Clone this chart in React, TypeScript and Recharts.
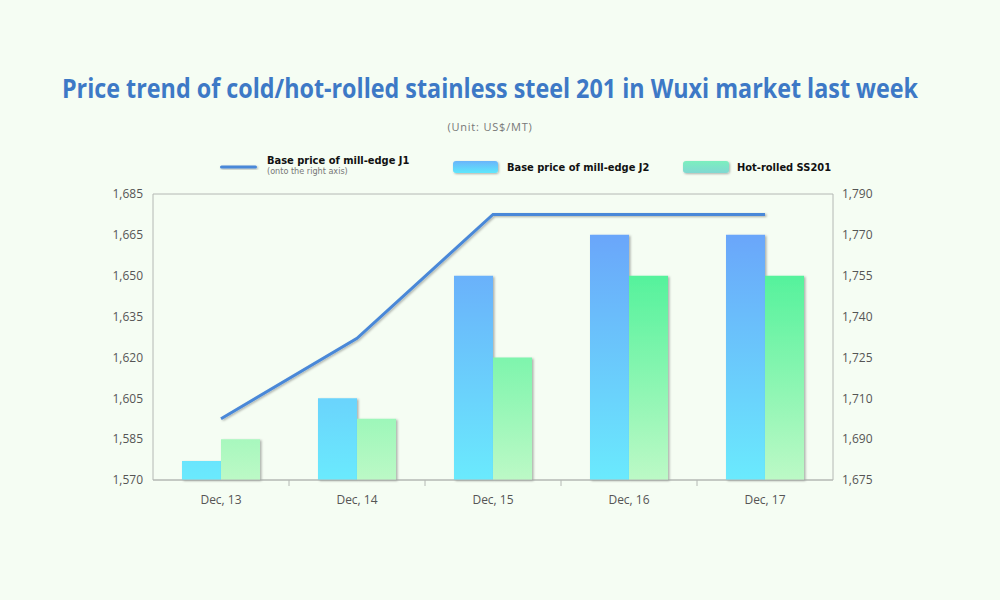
import React, { useLayoutEffect, useRef, useState } from "react";
import { ComposedChart, Bar, Line, XAxis, YAxis, CartesianGrid } from "recharts";

const days = ["Dec, 13", "Dec, 14", "Dec, 15", "Dec, 16", "Dec, 17"];
const j1Right = [1700, 1732, 1780, 1780, 1780];
const j2Left = [1577, 1605, 1650, 1665, 1665];
const hotRolled = [1585, 1595, 1620, 1650, 1650];

// the source axes are evenly spaced but not evenly valued
const leftTicks = [1570, 1585, 1605, 1620, 1635, 1650, 1665, 1685];
const rightTicks = [1675, 1690, 1710, 1725, 1740, 1755, 1770, 1790];

const TITLE = "Price trend of cold/hot-rolled stainless steel 201 in Wuxi market last week";

const BG = "#f5fdf3";
const GRID = "#b4b8b4";
const TEXT = "#555";
const FONT = "'Open Sans', 'Noto Sans', sans-serif";
const LEG_FONT = "'Liberation Sans Narrow', 'DejaVu Sans Condensed', sans-serif";

function toSlot(v: number, ticks: number[]) {
  for (let i = 0; i < ticks.length - 1; i++) {
    if (v <= ticks[i + 1]) return i + (v - ticks[i]) / (ticks[i + 1] - ticks[i]);
  }
  return ticks.length - 1;
}

const fmt = (n: number) => n.toLocaleString("en-US");

const data = days.map((d, i) => ({
  day: d,
  j1: toSlot(j1Right[i], rightTicks),
  j2: toSlot(j2Left[i], leftTicks),
  hr: toSlot(hotRolled[i], leftTicks),
}));

function DayTick(props: any) {
  const { x, y, payload, index } = props;
  return (
    <g>
      {index < days.length - 1 && <line x1={x + 68} x2={x + 68} y1={y - 8} y2={y - 2} stroke={GRID} />}
      <text x={x} y={y + 16} textAnchor="middle" fill={TEXT} fontSize={12} fontFamily={FONT}>
        {payload.value}
      </text>
    </g>
  );
}

// title font is condensed in the source, so squeeze it to the same width
function Title() {
  const ref = useRef<SVGTextElement>(null);
  const [sx, setSx] = useState(0.85);
  useLayoutEffect(() => {
    if (ref.current) {
      const w = ref.current.getComputedTextLength();
      if (w > 0) setSx(856 / w);
    }
  }, []);
  return (
    <text ref={ref} transform={`translate(490,98) scale(${sx},1)`} textAnchor="middle" fill="#3d79c6" fontSize={27} fontWeight={700} fontFamily="'Open Sans', sans-serif">
      {TITLE}
    </text>
  );
}

export default function App() {
  return (
    <div style={{ position: "absolute", left: 0, top: 0, width: 1000, height: 600, background: BG }}>
      <ComposedChart width={1000} height={600} data={data} margin={{ top: 194, right: 0, left: 0, bottom: 90 }} barGap={0} barSize={39}>
        <defs>
          <linearGradient id="j2Grad" gradientUnits="userSpaceOnUse" x1="0" y1="235" x2="0" y2="480">
            <stop offset="0%" stopColor="#6aa6fa" />
            <stop offset="100%" stopColor="#6aeafd" />
          </linearGradient>
          <linearGradient id="hrGrad" gradientUnits="userSpaceOnUse" x1="0" y1="276" x2="0" y2="480">
            <stop offset="0%" stopColor="#55f29c" />
            <stop offset="100%" stopColor="#bcf9c6" />
          </linearGradient>
          <filter id="shade" x="-20%" y="-20%" width="150%" height="150%">
            <feDropShadow dx="1.5" dy="1" stdDeviation="0.8" floodColor="#000" floodOpacity="0.3" />
          </filter>
        </defs>
        <CartesianGrid vertical={false} stroke={GRID} />
        <XAxis dataKey="day" axisLine={{ stroke: GRID }} tickLine={false} tick={<DayTick />} height={30} interval={0} />
        <YAxis
          yAxisId="left"
          domain={[0, 7]}
          ticks={[0, 1, 2, 3, 4, 5, 6, 7]}
          tickFormatter={(v: number) => fmt(leftTicks[v])}
          width={153}
          axisLine={{ stroke: GRID }}
          tickLine={false}
          tickMargin={4}
          tick={{ fill: TEXT, fontSize: 12, fontFamily: FONT }}
        />
        <YAxis
          yAxisId="right"
          orientation="right"
          domain={[0, 7]}
          ticks={[0, 1, 2, 3, 4, 5, 6, 7]}
          tickFormatter={(v: number) => fmt(rightTicks[v])}
          width={167}
          axisLine={{ stroke: GRID }}
          tickLine={false}
          tickMargin={3}
          tick={{ fill: TEXT, fontSize: 12, fontFamily: FONT, textAnchor: "start" }}
        />
        <Bar yAxisId="left" dataKey="j2" fill="url(#j2Grad)" filter="url(#shade)" isAnimationActive={false} />
        <Bar yAxisId="left" dataKey="hr" fill="url(#hrGrad)" filter="url(#shade)" isAnimationActive={false} />
        <Line yAxisId="right" dataKey="j1" stroke="#4a88d8" strokeWidth={3} dot={false} activeDot={false} filter="url(#shade)" isAnimationActive={false} />
      </ComposedChart>
      <svg width={1000} height={600} style={{ position: "absolute", left: 0, top: 0, pointerEvents: "none" }}>
        <defs>
          <linearGradient id="legJ2" x1="0" y1="0" x2="0" y2="1">
            <stop offset="0%" stopColor="#6ab4fa" />
            <stop offset="100%" stopColor="#5ee8fc" />
          </linearGradient>
          <linearGradient id="legHr" x1="0" y1="0" x2="0" y2="1">
            <stop offset="0%" stopColor="#7cefbe" />
            <stop offset="100%" stopColor="#80d8d2" />
          </linearGradient>
          <filter id="legShade" x="-20%" y="-50%" width="150%" height="200%">
            <feDropShadow dx="1" dy="1" stdDeviation="0.8" floodColor="#000" floodOpacity="0.3" />
          </filter>
        </defs>
        <Title />
        <text x={490} y={131} textAnchor="middle" fill="#777" fontSize={11} letterSpacing={0.8} fontFamily={FONT}>
          (Unit: US$/MT)
        </text>
        <rect x={220} y={165.5} width={37} height={3} rx={1.5} fill="#4a88d8" filter="url(#legShade)" />
        <text x={267} y={164} fill="#111" fontSize={11} fontWeight={700} fontFamily={LEG_FONT}>
          Base price of mill-edge J1
        </text>
        <text x={267} y={174} fill="#777" fontSize={9} fontFamily={LEG_FONT}>
          (onto the right axis)
        </text>
        <rect x={453} y={161} width={45} height={12} rx={3} fill="url(#legJ2)" filter="url(#legShade)" />
        <text x={507} y={171} fill="#111" fontSize={11} fontWeight={700} fontFamily={LEG_FONT}>
          Base price of mill-edge J2
        </text>
        <rect x={683} y={161} width={46} height={12} rx={3} fill="url(#legHr)" filter="url(#legShade)" />
        <text x={737} y={171} fill="#111" fontSize={11} fontWeight={700} fontFamily={LEG_FONT}>
          Hot-rolled SS201
        </text>
      </svg>
    </div>
  );
}
